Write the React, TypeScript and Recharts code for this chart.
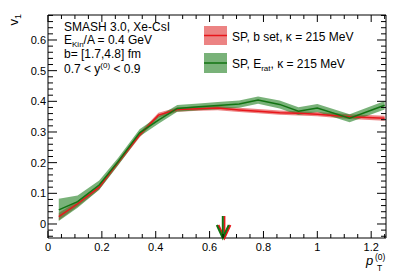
import React from "react";
import {
  ComposedChart,
  Area,
  Line,
  XAxis,
  YAxis,
  ReferenceDot,
} from "recharts";

// pT bins (GeV)
const PT = [0.04, 0.11, 0.19, 0.26, 0.34, 0.41, 0.48, 0.56, 0.63, 0.71, 0.78, 0.86, 0.93, 1.0, 1.12, 1.25];

// SP, b set
const V1_BSET = [0.024, 0.066, 0.12, 0.2, 0.29, 0.355, 0.373, 0.376, 0.378, 0.372, 0.368, 0.363, 0.361, 0.358, 0.35, 0.345];
const ERR_BSET = [0.012, 0.009, 0.008, 0.008, 0.008, 0.008, 0.007, 0.007, 0.007, 0.007, 0.007, 0.007, 0.007, 0.007, 0.008, 0.008];

// SP, E_rat
const V1_ERAT = [0.046, 0.073, 0.127, 0.203, 0.297, 0.339, 0.377, 0.382, 0.386, 0.391, 0.404, 0.39, 0.368, 0.378, 0.345, 0.387];
const ERR_ERAT = [0.036, 0.02, 0.015, 0.012, 0.012, 0.012, 0.011, 0.011, 0.012, 0.012, 0.012, 0.013, 0.013, 0.013, 0.013, 0.014];

// arrows marking <pT>
const ARROW_ERAT = 0.649;
const ARROW_BSET = 0.655;

const X_DOMAIN = [0, 1.255];
const Y_DOMAIN = [-0.0457, 0.6815];

const range = (a: number, b: number, s: number) => {
  const out: number[] = [];
  for (let v = a; v <= b + 1e-9; v += s) out.push(Math.round(v * 1000) / 1000);
  return out;
};
const X_TICKS = range(0, 1.25, 0.05);
const Y_TICKS = range(-0.04, 0.68, 0.02);

const FONT = "Liberation Sans, Arial, sans-serif";
const RED = "#e8161b";
const RED_FILL = "#e03030";
const GREEN = "#127312";
const GREEN_FILL = "#1f7f1f";

const data = PT.map((pt, i) => ({
  pt,
  bset: V1_BSET[i],
  bsetBand: [V1_BSET[i] - ERR_BSET[i], V1_BSET[i] + ERR_BSET[i]],
  erat: V1_ERAT[i],
  eratBand: [V1_ERAT[i] - ERR_ERAT[i], V1_ERAT[i] + ERR_ERAT[i]],
}));

const isMajor = (v: number, step: number) => Math.abs(v / step - Math.round(v / step)) < 1e-6;
const fmt = (v: number) => String(Math.round(v * 10) / 10);

const makeXTick = (side: "bottom" | "top") => (props: any) => {
  const { x, y, payload } = props;
  const v = payload.value;
  const major = isMajor(v, 0.2);
  const len = major ? 7 : 4;
  const dir = side === "bottom" ? -1 : 1;
  return (
    <g>
      <line x1={x} x2={x} y1={y} y2={y + dir * len} stroke="#000" />
      {side === "bottom" && major && (
        <text x={x} y={y + 13} textAnchor="middle" fontSize={11} fontFamily={FONT} fill="#000">
          {fmt(v)}
        </text>
      )}
    </g>
  );
};

const makeYTick = (side: "left" | "right") => (props: any) => {
  const { x, y, payload } = props;
  const v = payload.value;
  const major = isMajor(v, 0.1);
  const len = major ? 9 : 5;
  const dir = side === "left" ? 1 : -1;
  return (
    <g>
      <line x1={x} x2={x + dir * len} y1={y} y2={y} stroke="#000" />
      {side === "left" && major && (
        <text x={x - 2} y={y + 4} textAnchor="end" fontSize={11} fontFamily={FONT} fill="#000">
          {fmt(v)}
        </text>
      )}
    </g>
  );
};

const arrow = (color: string) => (props: any) => {
  const { cx, cy } = props;
  return (
    <g stroke={color} strokeWidth={2} fill="none">
      <line x1={cx} x2={cx} y1={cy - 22} y2={cy} />
      <polyline points={`${cx - 6},${cy - 13} ${cx},${cy} ${cx + 6},${cy - 13}`} />
    </g>
  );
};

export default function App() {
  return (
    <div style={{ position: "absolute", left: 0, top: 0, width: 399, height: 272, background: "#fff", fontFamily: FONT }}>
      <ComposedChart width={399} height={272} data={data} margin={{ top: 14, right: 12, bottom: 4, left: 8 }}>
        <XAxis
          dataKey="pt"
          type="number"
          domain={X_DOMAIN}
          allowDataOverflow
          ticks={X_TICKS}
          interval={0}
          height={30}
          tickSize={0}
          tickMargin={0}
          tickLine={false}
          axisLine={{ stroke: "#000" }}
          tick={makeXTick("bottom")}
        />
        <XAxis
          xAxisId="top"
          dataKey="pt"
          orientation="top"
          type="number"
          domain={X_DOMAIN}
          allowDataOverflow
          ticks={X_TICKS}
          interval={0}
          height={1}
          tickSize={0}
          tickMargin={0}
          tickLine={false}
          axisLine={{ stroke: "#000" }}
          tick={makeXTick("top")}
        />
        <YAxis
          type="number"
          domain={Y_DOMAIN}
          allowDataOverflow
          ticks={Y_TICKS}
          interval={0}
          width={40}
          tickSize={0}
          tickMargin={0}
          tickLine={false}
          axisLine={{ stroke: "#000" }}
          tick={makeYTick("left")}
        />
        <YAxis
          yAxisId="right"
          orientation="right"
          type="number"
          domain={Y_DOMAIN}
          allowDataOverflow
          ticks={Y_TICKS}
          interval={0}
          width={1}
          tickSize={0}
          tickMargin={0}
          tickLine={false}
          axisLine={{ stroke: "#000" }}
          tick={makeYTick("right")}
        />
        <Area dataKey="bsetBand" type="linear" fill={RED_FILL} fillOpacity={0.6} stroke="none" isAnimationActive={false} />
        <Line dataKey="bset" type="linear" stroke={RED} strokeWidth={1.5} dot={false} isAnimationActive={false} />
        <Area dataKey="eratBand" type="linear" fill={GREEN_FILL} fillOpacity={0.6} stroke="none" isAnimationActive={false} />
        <Line dataKey="erat" type="linear" stroke={GREEN} strokeWidth={1.5} dot={false} isAnimationActive={false} />
        <Line xAxisId="top" yAxisId="right" dataKey="erat" stroke="none" dot={false} legendType="none" isAnimationActive={false} />
        <ReferenceDot x={ARROW_BSET} y={Y_DOMAIN[0]} ifOverflow="visible" shape={arrow(RED)} />
        <ReferenceDot x={ARROW_ERAT} y={Y_DOMAIN[0]} ifOverflow="visible" shape={arrow(GREEN)} />
      </ComposedChart>

      <svg width={399} height={272} style={{ position: "absolute", left: 0, top: 0, pointerEvents: "none" }} fontFamily={FONT}>
        {/* y title */}
        <text transform="translate(18,25.5) rotate(-90)" fontSize={13} fill="#000">
          v<tspan fontSize={9} dy={3}>1</tspan>
        </text>
        {/* x title */}
        <text x={366} y={265} fontSize={13} fontStyle="italic" fill="#000">p</text>
        <text x={375} y={260} fontSize={8.5} fill="#000">(0)</text>
        <text x={377} y={271} fontSize={8.5} fill="#000">T</text>

        {/* annotation */}
        <g fontSize={12} fill="#000">
          <text x={64} y={30.5}>SMASH 3.0, Xe-CsI</text>
          <text x={64} y={44}>
            E<tspan fontSize={8} dy={2.5}>Kin</tspan>
            <tspan dy={-2.5}>/A = 0.4 GeV</tspan>
          </text>
          <text x={64} y={58}>b= [1.7,4.8] fm</text>
          <text x={64} y={73}>
            0.7 &lt; y<tspan fontSize={8} dy={-5.5}>(0)</tspan>
            <tspan dy={5.5}> &lt; 0.9</tspan>
          </text>
        </g>

        {/* legend */}
        <rect x={204} y={26} width={23} height={19} fill={RED_FILL} fillOpacity={0.6} />
        <line x1={204} x2={227} y1={35.5} y2={35.5} stroke={RED} strokeWidth={1.5} />
        <text x={232} y={41} fontSize={12} fill="#000">SP, b set, κ = 215 MeV</text>
        <rect x={204} y={53} width={23} height={20} fill={GREEN_FILL} fillOpacity={0.6} />
        <line x1={204} x2={227} y1={63} y2={63} stroke={GREEN} strokeWidth={1.5} />
        <text x={232} y={68} fontSize={12} fill="#000">
          SP, E<tspan fontSize={8} dy={2.5}>rat</tspan>
          <tspan dy={-2.5}>, κ = 215 MeV</tspan>
        </text>
      </svg>
    </div>
  );
}
